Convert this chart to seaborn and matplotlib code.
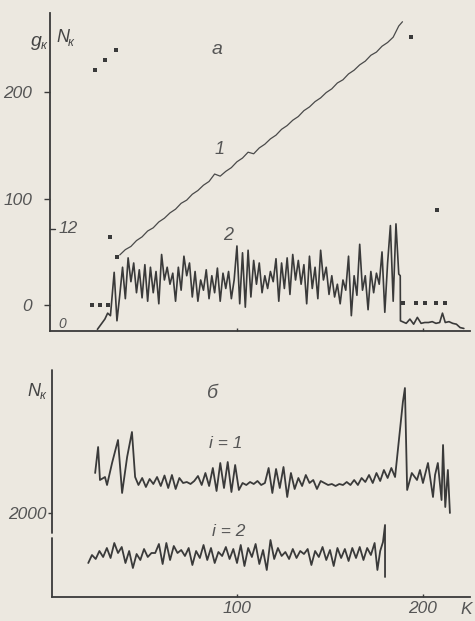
import numpy as np
import pandas as pd
import matplotlib
matplotlib.use("Agg")
import matplotlib.pyplot as plt
import seaborn as sns
from matplotlib.transforms import blended_transform_factory as btf

# ---------------- data ----------------
# panel a, curve 1 (g_k scale)
k_line1 = [37, 40, 43, 46, 49, 52, 55, 58, 61, 64,
           67, 70, 73, 76, 79, 82, 85, 88, 91, 94,
           97, 100, 103, 106, 109, 112, 115, 118, 121, 124,
           127, 130, 133, 136, 139, 142, 145, 148, 151, 154,
           157, 160, 163, 166, 169, 172, 175, 178, 181, 184,
           187, 189]
g_line1 = [47, 52, 55, 60.5, 64, 69.5, 72.5, 78, 81.5, 86.5,
           90, 95.5, 98.5, 104, 107.5, 112.5, 116, 123, 121, 125.5,
           129, 134.5, 138, 143.5, 142, 147.5, 151, 156, 159.5, 165,
           168.5, 173.5, 177, 182.5, 186, 191, 194.5, 199.5, 203, 208.5,
           211.5, 217, 220.5, 225.5, 229, 234.5, 237.5, 243, 246.5, 251.5,
           262, 266]

# panel a, isolated points (g_k scale)
k_dots = [23.5, 28.9, 34.8, 32.0, 35.3, 193.6, 207.5,
          22.0, 26.2, 30.5, 189.5, 196.0, 201.0, 207.0, 212.0]
g_dots = [221, 230, 239, 64, 45, 252, 89,
          0, 0, 0, 2, 2, 2, 2, 2]

# panel a, curve 2 (N_k scale)
k_curve2 = [25, 27, 29, 30.5, 32, 34, 35.5, 37, 38.5, 40,
            41.5, 43, 44.5, 46, 47.5, 49, 50.5, 52, 53.5, 55,
            56.5, 58, 59.5, 61, 62.5, 64, 65.5, 67, 68.5, 70,
            71.5, 73, 74.5, 76, 77.5, 79, 80.5, 82, 83.5, 85,
            86.5, 88, 89.5, 91, 92.5, 94, 95.5, 97, 98.5, 100,
            101.5, 103, 104.5, 106, 107.5, 109, 110.5, 112, 113.5, 115,
            116.5, 118, 119.5, 121, 122.5, 124, 125.5, 127, 128.5, 130,
            131.5, 133, 134.5, 136, 137.5, 139, 140.5, 142, 143.5, 145,
            146.5, 148, 149.5, 151, 152.5, 154, 155.5, 157, 158.5, 160,
            161.5, 163, 164.5, 166, 167.5, 169, 170.5, 172, 173.5, 175,
            176.5, 178, 179.5, 181, 182.5, 184, 185.5, 187, 187.8, 187.9,
            191, 193, 195, 197, 199, 201, 203, 205, 207, 209,
            210.5, 212, 214, 216, 218, 220, 222]
n_curve2 = [0.2, 0.8, 1.4, 2.1, 1.8, 6.9, 1.2, 4.2, 7.5, 3.8,
            8.6, 5.8, 8.0, 4.5, 7.2, 3.9, 7.8, 3.5, 7.5, 4.5,
            7.0, 3.2, 9.0, 6.0, 7.5, 5.5, 6.8, 3.5, 7.5, 4.8,
            8.8, 6.5, 8.0, 4.0, 7.0, 3.5, 6.0, 4.8, 7.2, 3.8,
            6.5, 4.5, 7.4, 3.5, 6.8, 5.0, 7.0, 3.8, 6.0, 10.0,
            3.2, 9.2, 2.8, 9.5, 4.0, 8.3, 5.5, 8.0, 4.5, 6.5,
            5.0, 7.0, 5.8, 8.5, 3.5, 8.0, 5.0, 8.6, 4.3, 9.0,
            6.0, 8.3, 5.5, 7.8, 3.2, 8.8, 5.0, 7.5, 3.8, 9.5,
            6.0, 7.5, 4.3, 6.5, 4.0, 5.5, 3.2, 6.0, 4.8, 8.8,
            1.8, 6.5, 4.2, 10.2, 4.8, 6.5, 2.5, 7.0, 4.5, 6.8,
            5.5, 9.3, 2.2, 8.0, 12.4, 3.5, 12.6, 6.7, 6.5, 1.2,
            0.9, 1.4, 0.8, 1.6, 0.9, 1.0, 1.0, 1.1, 0.9, 1.0,
            2.1, 1.0, 1.1, 0.9, 0.8, 0.4, 0.3]

# panel б, i = 1
k_i1 = [23.7, 25.3, 26.3, 29, 30.1, 32.8, 36, 38.2, 40.9, 43.5,
        45.2, 47, 49, 51, 53, 55, 57, 59, 61, 63,
        65, 67, 69, 71, 73, 75, 77, 79, 81, 83,
        85, 87, 89, 91, 93, 95, 97, 99, 101,
        103, 105, 107, 109, 111, 113, 115,
        117, 119, 121, 123, 125, 127, 129, 131,
        133, 135, 137, 139, 141, 143, 145, 147, 149, 151,
        153, 155, 157, 159, 161, 163,
        165, 167, 169, 171, 173, 175, 177, 179, 181, 183,
        185, 189.2, 190.3, 191.5, 194, 196.8, 198.4, 200, 202.7, 205.4,
        206.5, 208, 210, 210.8, 212, 213.4, 214.5]
n_i1 = [2800, 3320, 2660, 2720, 2560, 3000, 3460, 2400, 3120, 3620,
        2720, 2560, 2700, 2520, 2680, 2580, 2720, 2540, 2750, 2500,
        2760, 2480, 2700, 2600, 2620, 2580, 2640, 2740, 2560, 2800,
        2540, 2900, 2440, 3000, 2500, 3020, 2420, 2960, 2460,
        2600, 2560, 2620, 2580, 2640, 2560, 2600,
        2900, 2400, 2880, 2500, 2920, 2320, 2800, 2480,
        2700, 2540, 2760, 2600, 2660, 2480, 2640, 2600, 2560, 2580,
        2540, 2580, 2560, 2620, 2560, 2660,
        2560, 2700, 2620, 2760, 2600, 2800, 2640, 2860, 2700, 2900,
        2720, 4220, 4500, 2460, 2800, 2660, 2860, 2600, 3000, 2320,
        2760, 3000, 2260, 3360, 2120, 2860, 2000]

# panel б, i = 2
k_i2 = [20, 22, 24, 26, 28, 30, 32, 34, 36, 38,
        40, 42, 44, 46, 48, 50, 52, 54, 56, 58,
        60, 62, 64, 66, 68, 70, 72, 74, 76, 78,
        80, 82, 84, 86, 88, 90, 92, 94, 96, 98,
        100, 102, 104, 106, 108, 110, 112, 114, 116, 118,
        120, 122, 124, 126, 128, 130, 132, 134, 136, 138,
        140, 142, 144, 146, 148, 150, 152, 154, 156, 158,
        160, 162, 164, 166, 168, 170, 172, 174, 175.5, 177,
        178.5, 179.6, 179.6]
n_i2 = [1000, 1160, 1080, 1240, 1120, 1300, 1100, 1400, 1200, 1320,
        1000, 1240, 900, 1180, 1060, 1280, 1120, 1200, 1200, 1380,
        980, 1400, 1060, 1340, 1200, 1260, 1140, 1300, 960, 1240,
        1100, 1360, 1060, 1300, 1000, 1220, 1140, 1320, 1080, 1280,
        1000, 1360, 940, 1300, 1120, 1380, 980, 1260, 860, 1460,
        1080, 1300, 1140, 1220, 1080, 1280, 1100, 1240, 1180, 1280,
        960, 1240, 1120, 1320, 1060, 1260, 940, 1300, 1100, 1280,
        1040, 1300, 1100, 1320, 1060, 1300, 1160, 1400, 860, 1240,
        1420, 1760, 720]

g_ticks = [0, 100, 200]
n_ticks_a = [0, 12]
n_ticks_b = [2000]
k_ticks = [100, 200]

# ---------------- style ----------------
sns.set_theme(style="white")
plt.rcParams["font.family"] = ["Liberation Sans", "DejaVu Sans"]
plt.rcParams["font.style"] = "italic"

BG = "#ece8e0"
INK = "#3a3a3a"
TXT = "#555555"
W, H = 475, 621

fig = plt.figure(figsize=(4.75, 6.21), dpi=100)
fig.patch.set_facecolor(BG)

def fx(px):
    return px / W

def fy(py):
    return 1 - py / H

# ---------------- panel a ----------------
ax = fig.add_axes([fx(50), fy(331), fx(420), 318 / H])
ax.set_facecolor("none")
ax.set_xlim(-0.5, 225.3)
ax.set_ylim(-24.4, 274.2)
axn = ax.twinx()
axn.set_ylim(0, 37.4)
axn.set_facecolor("none")

sns.lineplot(x=k_line1, y=g_line1, ax=ax, color="#4a4a4a", lw=0.9,
             sort=False, estimator=None)
sns.scatterplot(x=k_dots, y=g_dots, ax=ax, color=INK, marker="s",
                s=6, linewidth=0)
sns.lineplot(x=k_curve2, y=n_curve2, ax=axn, color=INK, lw=1.2,
             sort=False, estimator=None)

for a in (ax, axn):
    for s in a.spines.values():
        s.set_visible(False)
    a.grid(False)
    a.set_xlabel("")
    a.set_ylabel("")
ax.spines["left"].set_visible(True)
ax.spines["bottom"].set_visible(True)
for s in ("left", "bottom"):
    ax.spines[s].set_color(INK)
    ax.spines[s].set_linewidth(1.3)

ax.set_yticks(g_ticks)
ax.set_yticklabels([str(v) for v in g_ticks])
ax.tick_params(axis="y", left=True, direction="out", length=4, width=1,
               color=INK, labelcolor=TXT, labelsize=12.5, pad=9)
ax.set_xticks(k_ticks)
ax.set_xticklabels([])
ax.tick_params(axis="x", bottom=True, direction="in", length=2, width=1,
               color=INK)
axn.set_yticks([])

tr = btf(ax.transAxes, axn.transData)
for v in n_ticks_a:
    axn.text(0.02, v, str(v), transform=tr, ha="left",
             va="center" if v else "bottom",
             fontsize=12.5 if v else 10, color=TXT)
axn.plot([0, 0.012], [12, 12], transform=tr, color=INK, lw=1, clip_on=False)

fig.text(fx(36), fy(41), "g", ha="center", va="center", fontsize=14,
         color="#444444")
fig.text(fx(41), fy(46), "к", ha="left", va="center", fontsize=9,
         color="#444444")
fig.text(fx(63), fy(38), "N", ha="center", va="center", fontsize=13,
         color="#444444")
fig.text(fx(68), fy(43), "к", ha="left", va="center", fontsize=9,
         color="#444444")
fig.text(fx(217), fy(50), "а", ha="center", va="center", fontsize=14,
         color=TXT)
fig.text(fx(220), fy(150), "1", ha="center", va="center", fontsize=13,
         color=TXT)
fig.text(fx(228), fy(236), "2", ha="center", va="center", fontsize=13,
         color=TXT)

# ---------------- panel б ----------------
bx = fig.add_axes([fx(52), fy(597), fx(418), 227 / H])
bx.set_facecolor("none")
bx.set_xlim(0.5, 225.3)
bx.set_ylim(320, 4860)

sns.lineplot(x=k_i1, y=n_i1, ax=bx, color=INK, lw=1.3,
             sort=False, estimator=None)
sns.lineplot(x=k_i2, y=n_i2, ax=bx, color=INK, lw=1.3,
             sort=False, estimator=None)

for s in bx.spines.values():
    s.set_visible(False)
bx.grid(False)
bx.set_xlabel("")
bx.set_ylabel("")
bx.spines["bottom"].set_visible(True)
bx.spines["bottom"].set_color(INK)
bx.spines["bottom"].set_linewidth(1.3)
# broken y axis line
bx.plot([0, 0], [1.0, 0.282], transform=bx.transAxes, color=INK, lw=1.3,
        clip_on=False)
bx.plot([0, 0], [0.26, 0.0], transform=bx.transAxes, color=INK, lw=1.3,
        clip_on=False)

bx.set_yticks(n_ticks_b)
bx.set_yticklabels([str(v) for v in n_ticks_b])
bx.tick_params(axis="y", left=True, direction="out", length=3, width=1,
               color=INK, labelcolor=TXT, labelsize=12.5, pad=1)
bx.set_xticks(k_ticks)
bx.set_xticklabels([str(v) for v in k_ticks])
bx.tick_params(axis="x", bottom=True, direction="in", length=2, width=1,
               color=INK, labelcolor=TXT, labelsize=12.5, pad=3)

fig.text(fx(466), fy(610), "K", ha="center", va="center", fontsize=12.5,
         color=TXT)
fig.text(fx(34), fy(391), "N", ha="center", va="center", fontsize=13,
         color="#444444")
fig.text(fx(40), fy(396), "к", ha="left", va="center", fontsize=9,
         color="#444444")
fig.text(fx(212), fy(394), "б", ha="center", va="center", fontsize=14,
         color=TXT)
fig.text(fx(226), fy(443), "i = 1", ha="center", va="center", fontsize=12.5,
         color=TXT)
fig.text(fx(229), fy(532), "i = 2", ha="center", va="center", fontsize=12.5,
         color=TXT)

fig.savefig("out.png", dpi=100, facecolor=BG)
